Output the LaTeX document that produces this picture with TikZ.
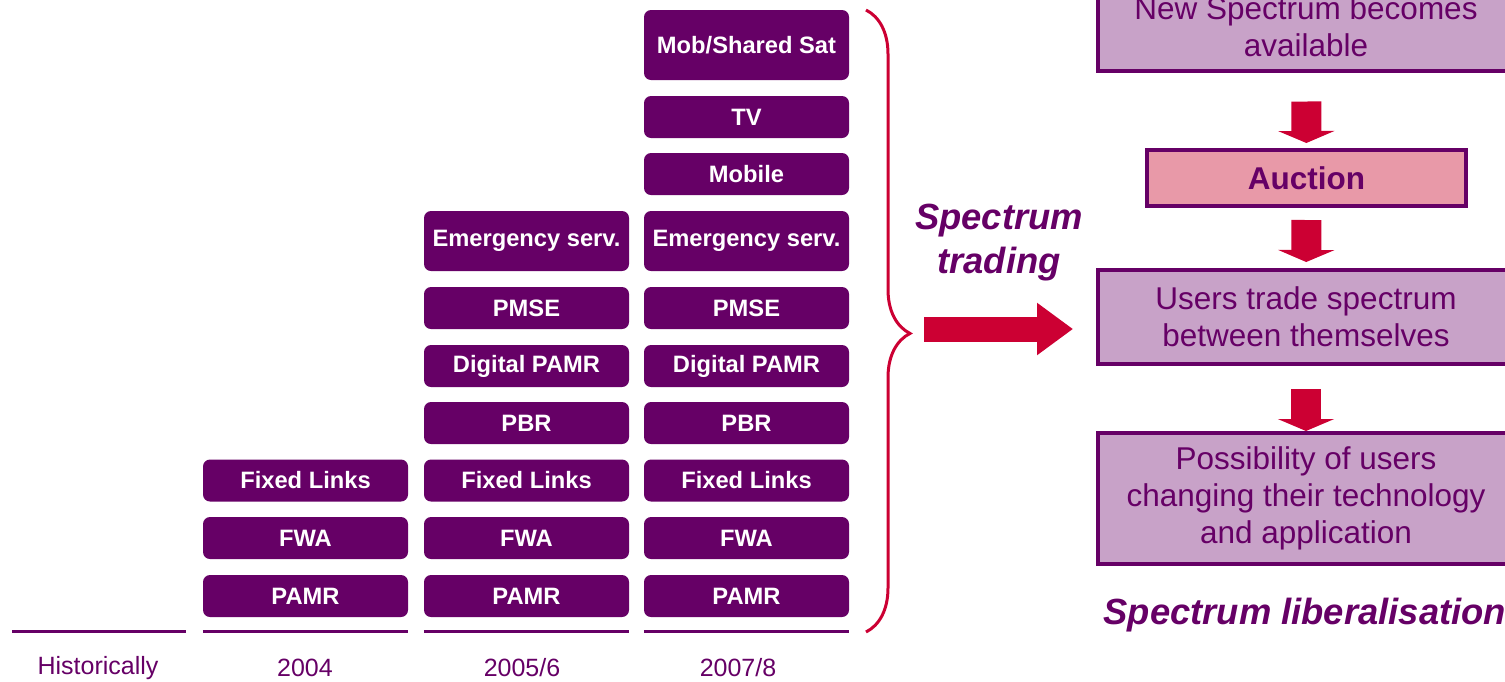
\documentclass[tikz,border=0pt]{standalone}
\usepackage{fontspec}
\setmainfont{Liberation Sans}
\usetikzlibrary{arrows.meta,decorations.pathreplacing}
\definecolor{plum}{HTML}{660066}
\definecolor{lilac}{HTML}{C8A2C8}
\definecolor{rosy}{HTML}{E899A8}
\definecolor{crimson}{HTML}{CC0033}

\begin{document}
\begin{tikzpicture}[x=1pt, y=-1pt,
  band/.style={fill=plum, rounded corners=7pt, minimum width=205pt, minimum height=42pt, inner sep=0pt,
               text=white, font=\fontsize{23.7}{28}\selectfont\bfseries},
  stage/.style={draw=plum, line width=4pt, fill=lilac, minimum width=416pt, inner sep=0pt,
                text=plum, align=center, font=\fontsize{31.5}{37}\selectfont},
  downarrow/.style={draw=crimson, line width=30pt, -{Triangle[length=12pt, width=56pt]}},
  year/.style={text=plum, font=\fontsize{25}{30}\selectfont},
  rule/.style={draw=plum, line width=3pt},
  bigtext/.style={text=plum, font=\fontsize{36.4}{44}\selectfont\bfseries\itshape}]
\useasboundingbox (0,0) rectangle (1505,681);
\clip (0,0) rectangle (1505,681);
% 2004
\node[band] (pamrA)  at (305.5,596) {PAMR};
\node[band] (fwaA)   at (305.5,538) {FWA};
\node[band] (linksA) at (305.5,480.5) {Fixed Links};
% 2005/6
\node[band] (pamrB)  at (526.5,596) {PAMR};
\node[band] (fwaB)   at (526.5,538) {FWA};
\node[band] (linksB) at (526.5,480.5) {Fixed Links};
\node[band] (pbrB)   at (526.5,423) {PBR};
\node[band] (dpamrB) at (526.5,366) {Digital PAMR};
\node[band] (pmseB)  at (526.5,308) {PMSE};
\node[band, minimum height=60pt] (emergB) at (526.5,241) {Emergency serv.};
% 2007/8
\node[band] (pamrC)  at (746.5,596) {PAMR};
\node[band] (fwaC)   at (746.5,538) {FWA};
\node[band] (linksC) at (746.5,480.5) {Fixed Links};
\node[band] (pbrC)   at (746.5,423) {PBR};
\node[band] (dpamrC) at (746.5,366) {Digital PAMR};
\node[band] (pmseC)  at (746.5,308) {PMSE};
\node[band, minimum height=60pt] (emergC) at (746.5,241) {Emergency serv.};
\node[band] (mobileC) at (746.5,174) {Mobile};
\node[band] (tvC)     at (746.5,117) {TV};
\node[band, minimum height=70pt] (mobsatC) at (746.5,45) {Mob/Shared Sat};
% ground lines and years
\draw[rule] (12,631) -- (186,631);
\draw[rule] ([yshift=-14pt]pamrA.south west) -- ([yshift=-14pt]pamrA.south east);
\draw[rule] ([yshift=-14pt]pamrB.south west) -- ([yshift=-14pt]pamrB.south east);
\draw[rule] ([yshift=-14pt]pamrC.south west) -- ([yshift=-14pt]pamrC.south east);
\node[year] (hist) at (98,668) {Historically};
\node[year] (yA) at (305,668) {2004};
\node[year] (yB) at (522,668) {2005/6};
\node[year] (yC) at (738,668) {2007/8};
% brace and trading arrow
\coordinate (bracetop) at (866,10);
\coordinate (bracebot) at (866,632);
\draw[crimson, line width=3pt, decorate, decoration={brace, amplitude=44pt, aspect=0.52}] (bracetop) -- (bracebot);
\node[bigtext, align=center] (trading) at (999,243) {Spectrum\\trading};
% liberalisation chain
\node[stage, minimum height=88pt] (newspec) at (1306,26.5) {New Spectrum becomes\\available};
\node[stage, fill=rosy, minimum width=319pt, minimum height=56pt, font=\fontsize{31.5}{37}\selectfont\bfseries] (auction) at (1306.5,178) {Auction};
\node[stage, minimum height=94pt] (users) at (1306,317) {Users trade spectrum\\between themselves};
\node[stage, minimum height=131pt] (possib) at (1306,498.5) {Possibility of users\\changing their technology\\and application};
\node[bigtext, anchor=west] (liberal) at (1100,615) {Spectrum liberalisation};
\coordinate (bracetip) at (910,329);
\draw[crimson, line width=25pt, -{Triangle[length=36pt, width=50pt]}, shorten >=23pt] ([xshift=14pt]bracetip) -- (bracetip -| users.west);
\draw[downarrow, shorten <=29pt, shorten >=5pt] (newspec) -- (auction);
\draw[downarrow, shorten <=12pt, shorten >=6pt] (auction) -- (users);
\draw[downarrow, shorten <=23pt] (users) -- (possib);
\end{tikzpicture}
\end{document}
